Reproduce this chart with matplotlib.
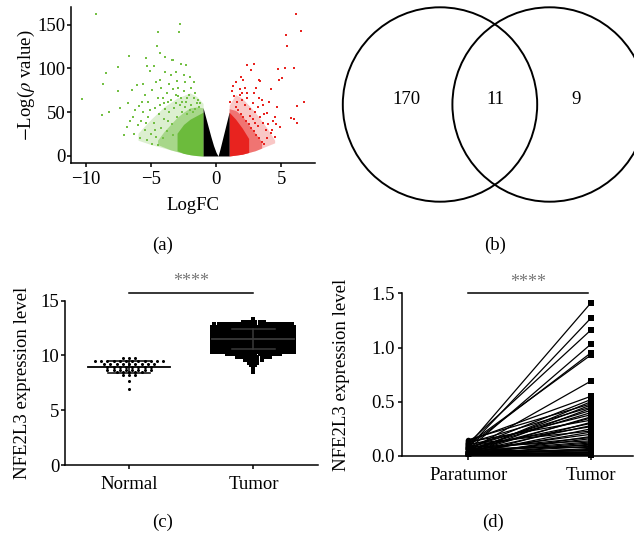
import numpy as np
import matplotlib
matplotlib.use('Agg')
import matplotlib.pyplot as plt
from matplotlib.patches import Circle

plt.rcParams['font.family'] = ['Liberation Serif', 'DejaVu Serif']
plt.rcParams['mathtext.fontset'] = 'stix'
plt.rcParams['font.size'] = 13.5

# ---- (a) volcano plot: dense clouds as envelopes, sparse points listed ----
black_x = [-1.0, -0.8, -0.6, -0.4, -0.2, 0.0, 0.15, 0.3, 0.5, 0.7, 0.9, 1.0]
black_top = [55, 44, 33, 22, 12, 4, 0, 8, 20, 32, 44, 50]

green_core_x = [-1.0, -1.5, -2.0, -2.5, -3.0]
green_core_top = [50, 46, 42, 36, 26]
green_core_bot = [0, 0.5, 1.5, 3, 6]
green_mid_x = [-1.0, -1.5, -2.0, -2.5, -3.0, -3.5, -4.0, -4.5]
green_mid_top = [55, 56, 55, 50, 44, 36, 28, 18]
green_mid_bot = [0, 0.5, 1.5, 3, 5, 7, 10, 13]
green_halo_x = [-1.0, -1.5, -2.0, -3.0, -4.0, -5.0, -6.0]
green_halo_top = [60, 68, 72, 66, 56, 42, 26]
green_halo_bot = [0, 0.5, 1.5, 5, 9, 13, 18]

red_core_x = [1.0, 1.5, 2.0, 2.5]
red_core_top = [50, 42, 32, 20]
red_core_bot = [0, 1, 2, 4]
red_mid_x = [1.0, 1.5, 2.0, 2.5, 3.0, 3.5]
red_mid_top = [54, 52, 46, 36, 26, 16]
red_mid_bot = [0, 1, 2, 4, 6, 9]
red_halo_x = [1.0, 1.5, 2.0, 2.5, 3.0, 3.5, 4.0, 4.5]
red_halo_top = [58, 70, 66, 58, 50, 40, 30, 18]
red_halo_bot = [0, 1, 2, 4, 6, 9, 12, 15]

green_pts = [(-9.23, 161.7), (-10.3, 65), (-8.75, 47), (-8.67, 82), (-8.46, 94.6),
             (-7.56, 102), (-7.56, 73.6), (-8.2, 50.7), (-6.7, 113.6), (-7.05, 24),
             (-7.38, 55), (-6.44, 75.5), (-6.05, 81), (-5.85, 20), (-5.38, 111.8),
             (-5.3, 103), (-4.56, 125), (-4.44, 141.5), (-2.77, 151), (-2.82, 142),
             (-4.3, 117.5), (-3.28, 110), (-2.7, 105), (-5.08, 96.5), (-4.3, 87),
             (-6.74, 60), (-6.36, 45), (-5.9, 57), (-6.87, 33.5), (-3.4, 110),
             (-3.9, 113), (-2.3, 104), (-3.1, 96), (-4.8, 103),
             (-5.5, 70), (-5.2, 62), (-4.9, 75), (-4.7, 55), (-4.5, 66), (-4.2, 78),
             (-4.0, 60), (-3.8, 72), (-3.6, 82), (-3.5, 64), (-3.3, 76), (-3.1, 70),
             (-2.9, 78), (-2.7, 66), (-2.5, 74), (-2.3, 62), (-2.1, 70), (-1.9, 58),
             (-1.7, 66), (-1.5, 60), (-1.3, 56), (-5.8, 40), (-5.5, 30), (-5.2, 45),
             (-5.0, 25), (-4.8, 38), (-4.6, 22), (-4.4, 48), (-4.2, 32), (-4.0, 42),
             (-3.8, 28), (-3.6, 50), (-3.4, 36), (-3.2, 55), (-3.0, 45), (-2.8, 58),
             (-6.3, 25), (-6.0, 35), (-5.6, 50), (-5.3, 18), (-4.9, 14), (-4.5, 12),
             (-3.9, 54), (-3.7, 40), (-2.6, 50), (-2.4, 56), (-2.2, 48), (-2.0, 52),
             (-1.8, 50), (-1.6, 54), (-4.1, 66), (-3.0, 86), (-2.4, 84), (-1.9, 78),
             (-4.6, 84), (-3.5, 92), (-2.0, 90), (-1.6, 72),
             (-6.6, 40), (-6.2, 52), (-5.7, 62), (-5.4, 38), (-5.1, 52), (-4.7, 30),
             (-4.3, 58), (-4.1, 20), (-3.7, 62), (-3.3, 24), (-3.1, 60), (-2.9, 68),
             (-2.6, 62), (-2.2, 66), (-1.4, 64), (-1.2, 60), (-5.6, 82), (-3.9, 96),
             (-2.5, 92), (-1.7, 84)]
red_pts = [(6.15, 162.5), (6.5, 143), (5.38, 138.4), (5.46, 126), (4.74, 99), (5.3, 100),
           (5.95, 100), (2.41, 104), (2.92, 105), (2.7, 98), (3.26, 87), (3.4, 85),
           (4.8, 87), (5.05, 88.7), (6.72, 62), (6.25, 57), (5.77, 43), (6.2, 38),
           (4.23, 76), (4.67, 56.4), (4.92, 33.5), (4.54, 22), (2.1, 87), (1.85, 76),
           (3.5, 64), (3.9, 49), (6.0, 42),
           (1.4, 68), (1.6, 62), (1.8, 70), (2.0, 64), (2.2, 58), (2.4, 66), (2.6, 54),
           (2.8, 60), (3.0, 50), (3.2, 56), (3.4, 44), (3.6, 38), (3.8, 30), (4.0, 36),
           (4.2, 26), (4.4, 40), (1.5, 56), (1.7, 52), (1.9, 48), (2.1, 44), (2.3, 40),
           (2.5, 36), (2.7, 32), (2.9, 28), (3.1, 24), (3.3, 20), (3.5, 16), (3.7, 14),
           (2.8, 42), (3.0, 38), (3.2, 34), (2.6, 46), (2.2, 78), (2.9, 72), (3.6, 58),
           (4.1, 62), (1.3, 80), (1.9, 90), (4.5, 45), (3.9, 20),
           (1.2, 74), (1.5, 84), (2.4, 72), (3.3, 66), (3.7, 48), (4.3, 30),
           (4.6, 36), (2.0, 72), (1.1, 62), (3.1, 78)]

# ---- (b) venn counts ----
venn_counts = [170, 11, 9]

# ---- (c) NFE2L3 expression, values grouped in rows (level, count) ----
normal_levels = [9.75, 9.45, 9.2, 8.95, 8.7, 8.45, 8.2, 7.65, 6.9]
normal_counts = [3, 12, 9, 8, 8, 5, 3, 1, 1]
tumor_levels = [13.35, 13.1, 12.85, 12.6, 12.35, 12.1, 11.85, 11.6, 11.35, 11.1,
                10.85, 10.6, 10.35, 10.1, 9.85, 9.6, 9.35, 9.1, 8.85, 8.45]
tumor_counts = [1, 6, 20, 28, 32, 34, 36, 36, 34, 32, 30, 26, 22, 14, 9, 5, 3, 2, 1, 1]

# ---- (d) paired samples ----
paratumor_d = [0.10, 0.08, 0.12, 0.06, 0.09, 0.11, 0.05, 0.14, 0.07, 0.03,
               0.15, 0.04, 0.12, 0.02, 0.08, 0.06, 0.10, 0.03, 0.05, 0.13,
               0.01, 0.07, 0.04, 0.09, 0.02, 0.11, 0.03, 0.05, 0.01, 0.06,
               0.02, 0.08, 0.04, 0.03, 0.01, 0.05, 0.02, 0.07, 0.01, 0.03,
               0.04, 0.02, 0.01, 0.06, 0.02, 0.03, 0.01, 0.04, 0.02, 0.01]
tumor_d = [1.41, 1.27, 1.16, 1.03, 0.95, 0.93, 0.69, 0.55, 0.52, 0.50,
           0.48, 0.47, 0.45, 0.44, 0.42, 0.40, 0.38, 0.36, 0.35, 0.33,
           0.31, 0.30, 0.28, 0.27, 0.25, 0.23, 0.22, 0.20, 0.18, 0.17,
           0.16, 0.14, 0.13, 0.12, 0.11, 0.10, 0.09, 0.08, 0.07, 0.06,
           0.05, 0.05, 0.04, 0.03, 0.03, 0.02, 0.02, 0.01, 0.01, 0.01]

GREEN = '#74c045'
GREEN_D = '#6cbb3c'
RED = '#e8231f'
W, H = 634, 535


def axes_px(left, top, right, bottom):
    return fig.add_axes([left / W, 1 - bottom / H, (right - left) / W, (bottom - top) / H])


def style(ax, pad_x=3, pad_y=1):
    for s in ['top', 'right']:
        ax.spines[s].set_visible(False)
    for s in ['left', 'bottom']:
        ax.spines[s].set_linewidth(1.1)
    ax.tick_params(direction='out', length=3, width=1.1, labelsize=13.5)
    ax.tick_params(axis='x', pad=pad_x)
    ax.tick_params(axis='y', pad=pad_y)


def swarm(levels, counts, center, step, half):
    xs, ys = [], []
    for lv, n in zip(levels, counts):
        w = min((n - 1) * step, 2 * half)
        xs.extend(center + np.linspace(-w / 2, w / 2, n))
        ys.extend([lv] * n)
    return np.array(xs), np.array(ys)


fig = plt.figure(figsize=(W / 100, H / 100), dpi=100)

# (a)
ax = axes_px(71, 7, 315, 163)
ax.fill_between(green_halo_x, green_halo_bot, green_halo_top, color=GREEN, alpha=0.25, lw=0)
ax.fill_between(green_mid_x, green_mid_bot, green_mid_top, color=GREEN, alpha=0.5, lw=0)
ax.fill_between(green_core_x, green_core_bot, green_core_top, color=GREEN_D, lw=0)
ax.fill_between(red_halo_x, red_halo_bot, red_halo_top, color=RED, alpha=0.25, lw=0)
ax.fill_between(red_mid_x, red_mid_bot, red_mid_top, color=RED, alpha=0.5, lw=0)
ax.fill_between(red_core_x, red_core_bot, red_core_top, color=RED, lw=0)
ax.fill_between(black_x, 0, black_top, color='black', lw=0)
gx, gy = zip(*green_pts)
rx, ry = zip(*red_pts)
ax.scatter(gx, gy, s=2.5, marker='s', color=GREEN, lw=0)
ax.scatter(rx, ry, s=2.5, marker='s', color=RED, lw=0)
ax.set_xlim(-11.15, 7.6)
ax.set_ylim(-8, 170)
ax.set_xticks([-10, -5, 0, 5])
ax.set_yticks([0, 50, 100, 150])
style(ax)
ax.set_xlabel('LogFC', fontsize=13.5, labelpad=6)
ax.set_ylabel(r'$-$Log($\rho$ value)', fontsize=13.5, labelpad=0)

# (b)
ax = axes_px(320, 0, 634, 240)
ax.set_xlim(320, 634)
ax.set_ylim(240, 0)
ax.axis('off')
ax.add_patch(Circle((440, 104.5), 97.2, fill=False, lw=1.4, ec='black'))
ax.add_patch(Circle((549.6, 104.5), 97.2, fill=False, lw=1.4, ec='black'))
ax.text(406, 99, str(venn_counts[0]), ha='center', va='center', fontsize=13.5)
ax.text(495, 99, str(venn_counts[1]), ha='center', va='center', fontsize=13.5)
ax.text(576, 99, str(venn_counts[2]), ha='center', va='center', fontsize=13.5)

# (c)
ax = axes_px(65, 300.7, 318, 465)
nx, ny = swarm(normal_levels, normal_counts, 0, 0.05, 0.33)
tx, ty = swarm(tumor_levels, tumor_counts, 1, 0.033, 0.33)
ax.plot(nx, ny, 'o', color='black', ms=2.2, mew=0)
ax.plot(tx, ty, 's', color='black', ms=3.3, mew=0)
for c, y, col in [(0, ny, 'black'), (1, ty, '#3a3a3a')]:
    m, sd = y.mean(), y.std()
    ax.plot([c - 0.33, c + 0.33], [m, m], color=col, lw=1.3)
    ax.plot([c, c], [m - sd, m + sd], color=col, lw=1.1)
    ax.plot([c - 0.17, c + 0.17], [m + sd, m + sd], color=col, lw=1.1)
    ax.plot([c - 0.17, c + 0.17], [m - sd, m - sd], color=col, lw=1.1)
ax.plot([0, 1.0], [15.68, 15.68], color='black', lw=1.1, clip_on=False)
ax.text(0.5, 15.95, '****', ha='center', va='bottom', color='#777777', fontsize=13)
ax.set_xlim(-0.516, 1.52)
ax.set_ylim(0, 15)
ax.set_xticks([0, 1])
ax.set_xticklabels(['Normal', 'Tumor'])
ax.set_yticks([0, 5, 10, 15])
style(ax, pad_x=5, pad_y=1)
ax.set_ylabel('NFE2L3 expression level', fontsize=13.5, labelpad=7)

# (d)
ax = axes_px(401.7, 293.3, 633, 456)
for p, t in zip(paratumor_d, tumor_d):
    ax.plot([0, 1], [p, t], color='black', lw=0.9)
ax.plot(np.zeros(len(paratumor_d)), paratumor_d, 'o', color='black', ms=4, mew=0)
ax.plot(np.ones(len(tumor_d)), tumor_d, 's', color='black', ms=5, mew=0, clip_on=False)
ax.plot([0, 0.98], [1.507, 1.507], color='black', lw=1.1, clip_on=False)
ax.text(0.49, 1.525, '****', ha='center', va='bottom', color='#777777', fontsize=13)
ax.set_xlim(-0.544, 1.345)
ax.set_ylim(0, 1.5)
ax.set_xticks([0, 1])
ax.set_xticklabels(['Paratumor', 'Tumor'])
ax.set_yticks([0, 0.5, 1.0, 1.5])
ax.set_yticklabels(['0.0', '0.5', '1.0', '1.5'])
style(ax, pad_x=5, pad_y=2)
ax.set_ylabel('NFE2L3 expression level', fontsize=13.5, labelpad=15)

# panel letters
for lab, x, y in [('(a)', 163, 245), ('(b)', 495, 245), ('(c)', 163, 522), ('(d)', 493, 522)]:
    fig.text(x / W, 1 - y / H, lab, ha='center', va='center', fontsize=13.5)

fig.savefig('out.png', dpi=100)
